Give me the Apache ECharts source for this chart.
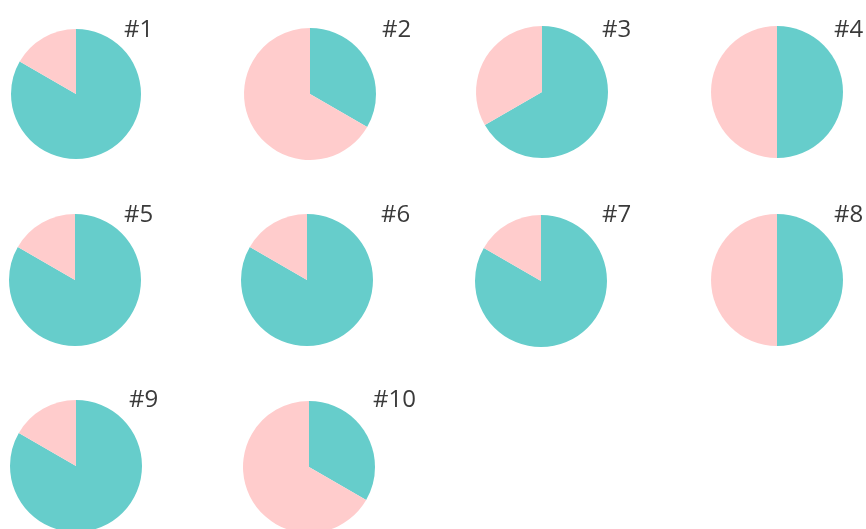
<!DOCTYPE html>
<html>
<head>
<meta charset="utf-8">
<script src="https://cdn.jsdelivr.net/npm/echarts@6/dist/echarts.min.js"></script>
<style>
html,body{margin:0;padding:0;background:#fff;}
#chart{width:866px;height:529px;}
</style>
</head>
<body>
<div id="chart"></div>
<script>
var labels = ['#1','#2','#3','#4','#5','#6','#7','#8','#9','#10'];
var tealValues = [5, 1, 2, 1, 5, 5, 5, 1, 5, 1];
var pinkValues = [1, 2, 1, 1, 1, 1, 1, 1, 1, 2];

// layout (positions only)
var centers = [[76,94],[310,94],[542,92],[777,92],[75,280],[307,280],[541,281],[777,280],[76,466],[309,467]];
var radii = [65,66,66,66,66,66,66,66,66,66];
var labelPos = [[124,18],[382,18],[602,18],[834,18],[124,203],[381,203],[602,203],[834,203],[129,388],[373,388]];

var chart = echarts.init(document.getElementById('chart'), null, {renderer:'canvas'});
var titles = [], series = [];
for (var i = 0; i < labels.length; i++) {
  titles.push({
    text: labels[i],
    left: labelPos[i][0],
    top: labelPos[i][1],
    padding: 0,
    textStyle: {fontFamily: 'Open Sans', fontSize: 24, fontWeight: 'normal', color: '#3a3a3a'}
  });
  series.push({
    type: 'pie',
    center: centers[i],
    radius: radii[i],
    startAngle: 90,
    clockwise: true,
    silent: true,
    animation: false,
    label: {show: false},
    labelLine: {show: false},
    itemStyle: {borderWidth: 0},
    data: [
      {name: 'teal', value: tealValues[i], itemStyle: {color: '#66CDCB'}},
      {name: 'pink', value: pinkValues[i], itemStyle: {color: '#FFCCCC'}}
    ]
  });
}
chart.setOption({
  backgroundColor: '#ffffff',
  animation: false,
  title: titles,
  series: series
});
</script>
</body>
</html>
